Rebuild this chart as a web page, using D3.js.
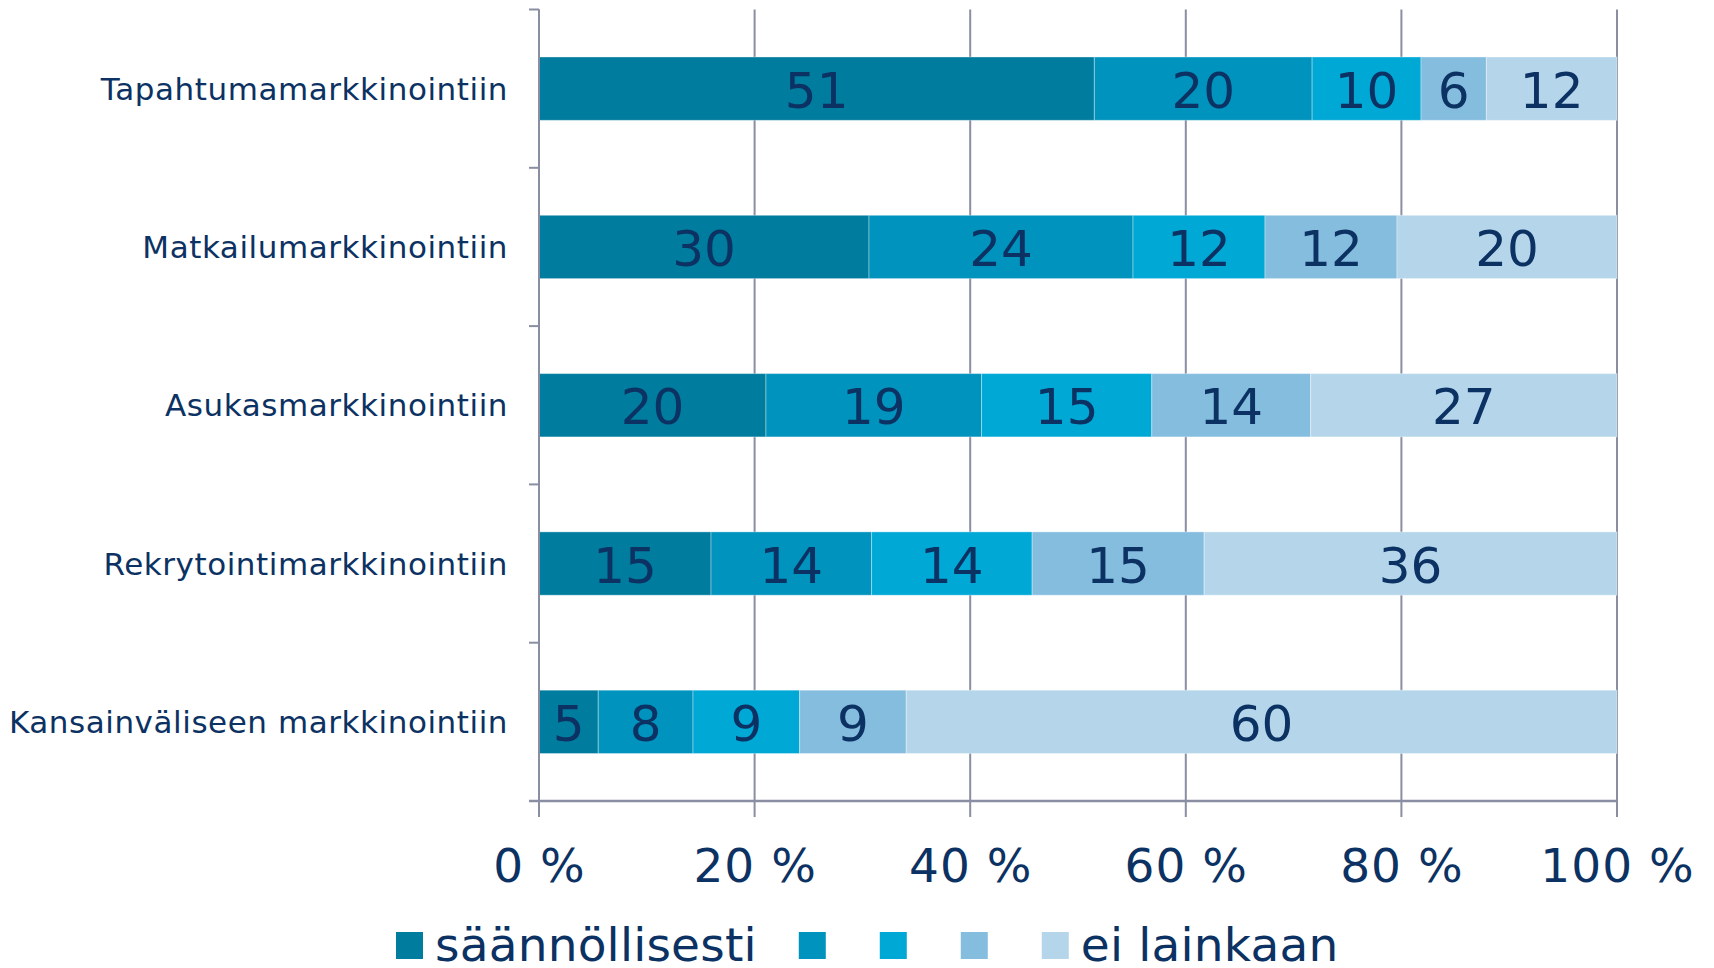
<!DOCTYPE html>
<html>
<head>
<meta charset="utf-8">
<script src="https://cdn.jsdelivr.net/npm/d3@7"></script>
<style>
  html, body { margin: 0; padding: 0; background: #fff; }
  svg { display: block; }
  text { font-family: "DejaVu Sans", Verdana, sans-serif; fill: #0c3263; }
</style>
</head>
<body>
<svg id="chart"></svg>
<script>
// kategoriat ylhäältä alas
const categories = [
  "Tapahtumamarkkinointiin",
  "Matkailumarkkinointiin",
  "Asukasmarkkinointiin",
  "Rekrytointimarkkinointiin",
  "Kansainväliseen markkinointiin"
];

// sarjat (vastausosuudet, %)
const seriesNames = ["säännöllisesti", "", "", "", "ei lainkaan"];
const s1 = [51, 30, 20, 15, 5];
const s2 = [20, 24, 19, 14, 8];
const s3 = [10, 12, 15, 14, 9];
const s4 = [6, 12, 14, 15, 9];
const s5 = [12, 20, 27, 36, 60];
const seriesValues = [s1, s2, s3, s4, s5];

const colors = ["#007c9e", "#0093be", "#00a8d6", "#85bddf", "#b5d6ea"];
const xTicks = [0, 20, 40, 60, 80, 100];

const W = 1714, H = 968;
const mLeft = 539, mRight = 1617, mTop = 9.5, mBottom = 801;

const svg = d3.select("#chart").attr("width", W).attr("height", H);

const x = d3.scaleLinear().domain([0, 100]).range([mLeft, mRight]);
const y = d3.scaleBand()
  .domain(categories)
  .range([mTop, mBottom])
  .paddingInner(0.6)
  .paddingOuter(0.3);

// 100 % pinottu: normalisoidaan rivin summalla
const rows = categories.map((c, i) => {
  const vals = seriesValues.map(s => s[i]);
  const total = d3.sum(vals);
  let acc = 0;
  return vals.map((v, k) => {
    const seg = { cat: c, k, v, x0: acc / total * 100, x1: (acc + v) / total * 100 };
    acc += v;
    return seg;
  });
});

const axisColor = "#8a8ea3";

// pystysuorat ruudukkoviivat
svg.append("g")
  .selectAll("line")
  .data(xTicks)
  .join("line")
  .attr("x1", d => x(d)).attr("x2", d => x(d))
  .attr("y1", mTop).attr("y2", mBottom + 16)
  .attr("stroke", axisColor)
  .attr("stroke-width", 2);

// palkit
const segs = svg.append("g")
  .selectAll("g")
  .data(rows.flat())
  .join("g");

segs.append("rect")
  .attr("x", d => x(d.x0))
  .attr("y", d => y(d.cat))
  .attr("width", d => x(d.x1) - x(d.x0))
  .attr("height", y.bandwidth())
  .attr("fill", d => colors[d.k])
  .attr("stroke", "rgba(255,255,255,0.35)")
  .attr("stroke-width", 1);

segs.append("text")
  .attr("x", d => (x(d.x0) + x(d.x1)) / 2)
  .attr("y", d => y(d.cat) + y.bandwidth() / 2 + 19)
  .attr("text-anchor", "middle")
  .style("font-size", "50px")
  .text(d => d.v);

// y-akseli ja väliviivat
const boundaries = d3.range(categories.length + 1).map(i => mTop + i * y.step());
svg.append("line")
  .attr("x1", mLeft).attr("x2", mLeft)
  .attr("y1", mTop).attr("y2", mBottom + 16)
  .attr("stroke", axisColor).attr("stroke-width", 2);
svg.append("g")
  .selectAll("line")
  .data(boundaries)
  .join("line")
  .attr("x1", mLeft - 10).attr("x2", mLeft)
  .attr("y1", d => d).attr("y2", d => d)
  .attr("stroke", axisColor).attr("stroke-width", 2);

// x-akseli
svg.append("line")
  .attr("x1", mLeft - 10).attr("x2", mRight)
  .attr("y1", mBottom).attr("y2", mBottom)
  .attr("stroke", axisColor).attr("stroke-width", 2.5);

svg.append("g")
  .selectAll("text")
  .data(xTicks)
  .join("text")
  .attr("x", d => x(d) + 0.5)
  .attr("y", 882)
  .attr("text-anchor", "middle")
  .style("font-size", "47px")
  .style("letter-spacing", "1px")
  .text(d => d + " %");

// kategorianimet
svg.append("g")
  .selectAll("text")
  .data(categories)
  .join("text")
  .attr("x", mLeft - 31)
  .attr("y", d => y(d) + y.bandwidth() / 2 + 11)
  .attr("text-anchor", "end")
  .style("font-size", "31px")
  .style("letter-spacing", "0.55px")
  .text(d => d);

// selite
const legend = svg.append("g");
let lx = 396;
seriesNames.forEach((name, k) => {
  const g = legend.append("g").attr("transform", `translate(${lx},0)`);
  g.append("rect")
    .attr("x", 0).attr("y", 932)
    .attr("width", 27).attr("height", 27)
    .attr("fill", colors[k]);
  const t = g.append("text")
    .attr("x", 39).attr("y", 961)
    .style("font-size", "47px")
    .style("letter-spacing", "0.2px")
    .text(name);
  lx += 39 + t.node().getComputedTextLength() + 42;
});
</script>
</body>
</html>
